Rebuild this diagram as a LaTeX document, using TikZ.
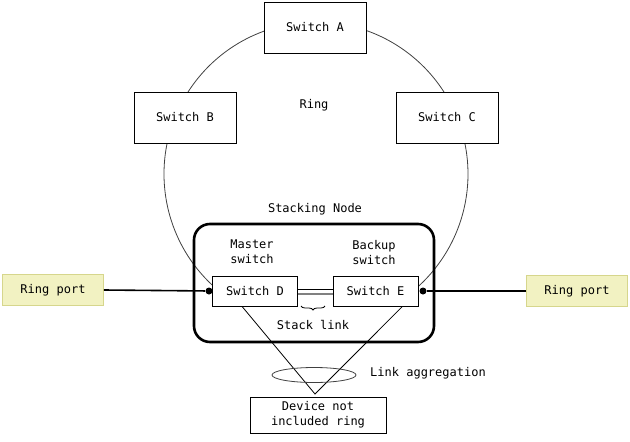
\documentclass[tikz,border=0pt]{standalone}
\usepackage{fontspec}
\setmonofont{DejaVu Sans Mono}
\usetikzlibrary{shapes,arrows.meta,positioning,decorations.pathreplacing}
\definecolor{portfill}{RGB}{242,242,194}
\definecolor{portline}{RGB}{214,214,140}
\definecolor{ringline}{RGB}{64,64,64}

\begin{document}
\begin{tikzpicture}[x=1pt, y=-1pt, node distance=6mm, line width=0.8pt,
  every node/.style={font=\ttfamily\fontsize{12}{15}\selectfont, align=center},
  switchbox/.style={draw, rectangle, fill=white, minimum width=102pt, minimum height=51pt},
  memberbox/.style={draw, rectangle, fill=white, minimum width=85pt, minimum height=30pt},
  portbox/.style={draw=portline, fill=portfill, rectangle, minimum width=101pt, minimum height=31pt},
  portdot/.style={circle, fill=black, inner sep=0pt, minimum size=7pt}]
  \useasboundingbox (0,0) rectangle (630,442);
  % the ring
  \coordinate (ringc) at (316,174);
  \draw[ringline] (ringc) ++(130:152) arc[start angle=130, end angle=410, radius=152];
  \node at (314,105) (ringlabel) {Ring};
  % stacking node
  \draw[line width=2.6pt, rounded corners=16pt] (194,224) rectangle (434,342);
  \node at (315,209) (stacklabel) {Stacking Node};
  \node[switchbox] at (315,27.5) (swA) {Switch A};
  \node[switchbox] at (185,117.5) (swB) {Switch B};
  \node[switchbox] at (447,117.5) (swC) {Switch C};
  \node[memberbox] at (255,291) (swD) {Switch D};
  \node[memberbox] at (375.5,291) (swE) {Switch E};
  \node at (252,252) (master) {Master\\switch};
  \node at (374,253) (backup) {Backup\\switch};
  % stack link
  \draw ([yshift=2pt]swD.east) -- ([yshift=2pt]swE.west);
  \draw[gray, line width=1.5pt] ([yshift=-3pt]swD.east) -- ([yshift=-3pt]swE.west);
  \coordinate (braceL) at (301,306);
  \coordinate (braceR) at (325,306);
  \draw[decorate, decoration={brace, amplitude=4pt, mirror}] (braceL) -- (braceR);
  \node at (313,325) (linklabel) {Stack link};
  % ring ports
  \node[portbox] at (53,290) (portL) {Ring port};
  \node[portbox] at (577,291) (portR) {Ring port};
  \node[portdot] at (209,291) (dotL) {};
  \node[portdot] at (423,291) (dotR) {};
  \draw[line width=1.6pt] (portL.east) -- (dotL);
  \draw[line width=1.6pt] (portR.west) -- (dotR);
  % link aggregation
  \node[draw, rectangle, minimum width=136pt, minimum height=36pt, inner sep=1pt] at (318,415) (device) {Device not\\included ring};
  \coordinate (apex) at (315,394);
  \draw ([xshift=-13pt]swD.south) -- (apex) -- ([xshift=27pt]swE.south);
  \draw[ringline] (314,375) ellipse[x radius=42pt, y radius=7.5pt];
  \node at (428,373) (agglabel) {Link aggregation};
\end{tikzpicture}
\end{document}
